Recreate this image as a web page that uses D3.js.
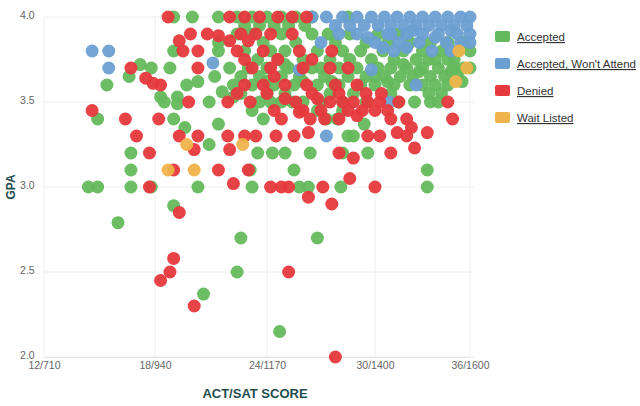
<!DOCTYPE html>
<html lang="en">
<head>
<meta charset="UTF-8">
<title>GPA vs ACT/SAT</title>
<script src="https://d3js.org/d3.v7.min.js"></script>
<style>
  body { margin: 0; background: #fff; font-family: "Liberation Sans", Arial, sans-serif; }
</style>
</head>
<body>
<svg id="chart" width="640" height="406"></svg>
<script>
// tick labels
const xTicks = [12, 18, 24, 30, 36];
const xTickLabels = ['12/710', '18/940', '24/1170', '30/1400', '36/1600'];
const yTicks = [2.0, 2.5, 3.0, 3.5, 4.0];

// [ACT, GPA] pairs
const accepted = [
  [19,4.0],[20,4.0],[21.4,4.0],[22.4,4.0],[23.2,4.0],[24,4.0],[24.8,4.0],[25.6,4.0],[26.5,4.0],[28.5,4.0],
  [22.8,3.95],[23.6,3.95],[24.4,3.95],[25.2,3.95],[26.1,3.95],
  [22.4,3.9],[23.2,3.9],[24.8,3.9],[26.5,3.9],[27.4,3.9],[28.6,3.9],[30.2,3.9],[31.5,3.9],
  [21.4,3.85],[23.8,3.85],[25.6,3.85],[27.8,3.85],[29.5,3.85],[30.8,3.85],[32.2,3.85],[33.5,3.85],[34.6,3.85],[35.6,3.85],
  [19,3.8],[21.4,3.8],[22.8,3.8],[24.2,3.8],[25,3.8],[26.8,3.8],[28.2,3.8],[29.2,3.8],[30.5,3.8],[31.8,3.8],[33,3.8],[34.2,3.8],[35.2,3.8],[36,3.8],
  [23.5,3.75],[24.6,3.75],[26,3.75],[27.5,3.75],[28.6,3.75],[29.8,3.75],[31.2,3.75],[32.6,3.75],[33.4,3.75],[33.8,3.75],[34.6,3.75],[35,3.75],
  [25,3.72],[31.8,3.72],[36,3.7],
  [17.2,3.72],[17.8,3.7],[18.8,3.7],[22,3.7],[23,3.7],[24,3.7],[25.2,3.7],[26.5,3.7],[27,3.7],[28,3.7],[29,3.7],[30.2,3.7],[31,3.7],[32,3.7],[33,3.7],[34,3.7],[35,3.7],[35.6,3.7],
  [32.8,3.68],[34.8,3.68],[30,3.65],
  [16.6,3.65],[21.2,3.65],[22.6,3.65],[23.6,3.65],[24.8,3.65],[25.8,3.65],[27.2,3.65],[28.5,3.65],[29.5,3.65],[30.6,3.65],[31.6,3.65],[32.4,3.65],[33.5,3.65],[34.4,3.65],[35.2,3.65],
  [24,3.62],[26,3.62],[27.6,3.62],[30.8,3.62],[35.5,3.62],
  [15.4,3.6],[19.7,3.6],[20.3,3.62],[22.2,3.6],[23.2,3.6],[24.4,3.6],[25.5,3.6],[26.8,3.6],[28,3.6],[29.2,3.6],[30,3.6],[31.2,3.6],[32.2,3.6],[33,3.6],[33.8,3.6],[34.6,3.6],
  [21.6,3.56],[22.2,3.53],[22.6,3.55],[24,3.55],[25,3.55],[27.5,3.55],[28.8,3.55],[31,3.55],[33.4,3.55],[34.2,3.55],
  [18.3,3.53],[18.5,3.5],[19.2,3.53],[19.2,3.49],[20.9,3.5],[23.6,3.5],[24.2,3.5],[24.8,3.5],[25.4,3.5],[26,3.5],[27,3.5],[28.2,3.5],[29.5,3.5],[31.5,3.5],[32.5,3.5],[33.5,3.5],[34,3.5],
  [23.2,3.45],[26.8,3.45],[28.2,3.45],
  [14.9,3.4],[19,3.4],[23.8,3.4],[27.3,3.4],[27.9,3.4],[29.4,3.37],[21.4,3.37],[19.6,3.35],
  [28.5,3.3],[28.8,3.3],[20.9,3.25],
  [16.7,3.2],[23.5,3.2],[24.3,3.2],[25,3.2],[26.4,3.2],[28.2,3.2],[29.6,3.2],
  [16.7,3.1],[23.1,3.1],[25.5,3.1],[33.3,3.1],
  [14.4,3.0],[14.9,3.0],[16.7,3.0],[17.8,3.0],[20.3,3.0],[23.2,3.0],[25.8,3.0],[26.3,3.0],[28.1,3.0],[33.3,3.0],
  [19,2.89],[16,2.79],[22.6,2.7],[26.8,2.7],[22.4,2.5],[20.6,2.37],[24.7,2.15]
];
const wontAttend = [
  [26.5,4.0],[27.3,4.0],[28.2,4.0],[29,4.0],[29.8,4.0],[30.6,4.0],[31.4,4.0],[32.2,4.0],[33,4.0],[33.8,4.0],[34.6,4.0],[35.4,4.0],[36,4.0],
  [27.8,3.95],[28.6,3.95],[29.4,3.95],[30.2,3.95],[31,3.95],[31.8,3.95],[32.6,3.95],[33.4,3.95],[34.2,3.95],[35,3.95],[35.8,3.95],
  [28,3.9],[29,3.9],[30.8,3.9],[31,3.9],[32,3.9],[32.4,3.92],[33,3.9],[34,3.9],[34.8,3.92],[35.2,3.9],[36,3.9],
  [29.6,3.88],[33.8,3.88],
  [27,3.85],[30,3.85],[31.5,3.85],[32.8,3.85],[34.5,3.85],[35.4,3.85],[36,3.85],
  [30.5,3.82],[32,3.82],[34.8,3.8],
  [14.6,3.8],[15.5,3.8],[31.2,3.8],[33.6,3.8],
  [15.5,3.7],[21.1,3.73],[25.8,3.69],[29.8,3.69],[32.6,3.6],[30.9,3.5],[27.3,3.3]
];
const denied = [
  [18.7,4.0],[22,4.0],[22.8,4.0],[23.6,4.0],[24.6,4.0],[25.4,4.0],[26.2,4.0],
  [19.9,3.9],[20.8,3.9],[22.6,3.9],[23.4,3.9],[24.2,3.9],[25.4,3.9],
  [19.3,3.86],[21.4,3.89],[22,3.86],[23,3.86],
  [19.5,3.8],[20.3,3.8],[22.4,3.8],[23.8,3.8],[25.8,3.8],[27.6,3.8],
  [22.8,3.75],[24.6,3.75],[26.5,3.75],
  [16.7,3.7],[20.3,3.7],[23.2,3.7],[24.2,3.7],[26,3.7],[27.5,3.7],[28.5,3.7],
  [24.4,3.65],
  [17.5,3.64],[17.9,3.61],[18.3,3.6],[22.8,3.6],[23.8,3.6],[25,3.6],[26.2,3.6],[27.8,3.6],[29,3.6],
  [22.4,3.55],[24,3.55],[26.5,3.55],[28,3.55],[29.5,3.55],[30.4,3.55],
  [25,3.52],[26.8,3.52],
  [19.8,3.5],[21.9,3.5],[23.1,3.5],[25.6,3.5],[27.5,3.5],[28.2,3.5],[28.8,3.5],[29.6,3.5],[30.3,3.5],[31.5,3.5],[34.6,3.5],
  [14.6,3.45],[24.4,3.45],[26,3.45],[27,3.45],[28.5,3.45],[29.3,3.45],[30,3.45],[30.8,3.45],[25.8,3.44],
  [29,3.42],[27.2,3.4],
  [16.4,3.4],[18.2,3.4],[24.8,3.4],[26.4,3.4],[28,3.4],[31,3.4],[32,3.4],[34.9,3.4],
  [32.3,3.35],[31.4,3.32],[33.3,3.32],[26.3,3.32],
  [17,3.3],[19.3,3.3],[20.3,3.3],[21.9,3.3],[22.8,3.3],[23.4,3.3],[24.5,3.3],[25.5,3.3],[29.6,3.3],[30.3,3.3],[32,3.3],
  [32.5,3.23],[20.1,3.22],[22,3.22],[17.7,3.2],[28,3.2],[31,3.2],[28.8,3.17],
  [19,3.1],[21.4,3.1],[23,3.1],[28.6,3.05],[22.2,3.02],
  [17.7,3.0],[24.2,3.0],[24.8,3.0],[25.2,3.0],[27.1,3.0],[30,3.0],
  [26.3,2.94],[27.6,2.9],[19.3,2.85],[19,2.58],[18.8,2.5],[25.2,2.5],[18.3,2.45],[20.1,2.3],[27.8,2.0]
];
const waitListed = [
  [35.3,3.8],[35.8,3.7],[35.1,3.62],[19.7,3.25],[22.7,3.25],[18.7,3.1],[20.1,3.1]
];

const series = [
  { name: 'Accepted', color: '#64b95c', data: accepted },
  { name: "Accepted, Won't Attend", color: '#6b9fd2', data: wontAttend },
  { name: 'Denied', color: '#e6393d', data: denied },
  { name: 'Wait Listed', color: '#efb34b', data: waitListed }
];

const svg = d3.select('#chart');
const x = d3.scaleLinear().domain(xTicks).range([44, 155, 267, 375, 470]);
const y = d3.scaleLinear().domain([2, 4]).range([357, 17]);

// grid
svg.append('g').selectAll('line.v').data(xTicks).enter().append('line')
  .attr('x1', d => x(d)).attr('x2', d => x(d)).attr('y1', 17).attr('y2', 357)
  .attr('stroke', '#eeeeee');
svg.append('g').selectAll('line.h').data(yTicks).enter().append('line')
  .attr('x1', 44).attr('x2', 474).attr('y1', d => y(d)).attr('y2', d => y(d))
  .attr('stroke', '#eeeeee');

// axes
const xAxis = svg.append('g').attr('transform', 'translate(0,357)')
  .call(d3.axisBottom(x).tickValues(xTicks).tickFormat((d, i) => xTickLabels[i]).tickSize(0));
xAxis.select('.domain').attr('stroke', '#e4e4e4');
xAxis.selectAll('text').attr('dy', '0.9em').attr('fill', '#666').style('font-size', '10.5px');

const yAxis = svg.append('g').attr('transform', 'translate(44,0)')
  .call(d3.axisLeft(y).tickValues(yTicks).tickFormat(d3.format('.1f')).tickSize(0));
yAxis.select('.domain').remove();
yAxis.selectAll('text').attr('dx', '-0.6em').attr('dy', '0.1em').attr('fill', '#666').style('font-size', '10.5px');

// points
series.forEach(s => {
  svg.append('g').selectAll('circle').data(s.data).enter().append('circle')
    .attr('cx', d => x(d[0])).attr('cy', d => y(d[1])).attr('r', 6.5)
    .attr('fill', s.color).attr('fill-opacity', 0.95);
});

// axis titles
svg.append('text').attr('x', 255).attr('y', 398).attr('text-anchor', 'middle')
  .attr('fill', '#1f4e4f').style('font-size', '13px').style('font-weight', 'bold').text('ACT/SAT SCORE');
svg.append('text').attr('transform', 'translate(15,187) rotate(-90)').attr('text-anchor', 'middle')
  .attr('fill', '#1f4e4f').style('font-size', '12px').style('font-weight', 'bold').text('GPA');

// legend
const legend = svg.append('g').selectAll('g').data(series).enter().append('g')
  .attr('transform', (d, i) => `translate(495,${31 + i * 27})`);
legend.append('rect').attr('width', 15).attr('height', 11).attr('rx', 2)
  .attr('fill', d => d.color);
legend.append('text').attr('x', 22).attr('y', 10).attr('fill', '#333')
  .style('font-size', '11.5px').style('text-decoration', 'underline').text(d => d.name);
</script>
</body>
</html>
